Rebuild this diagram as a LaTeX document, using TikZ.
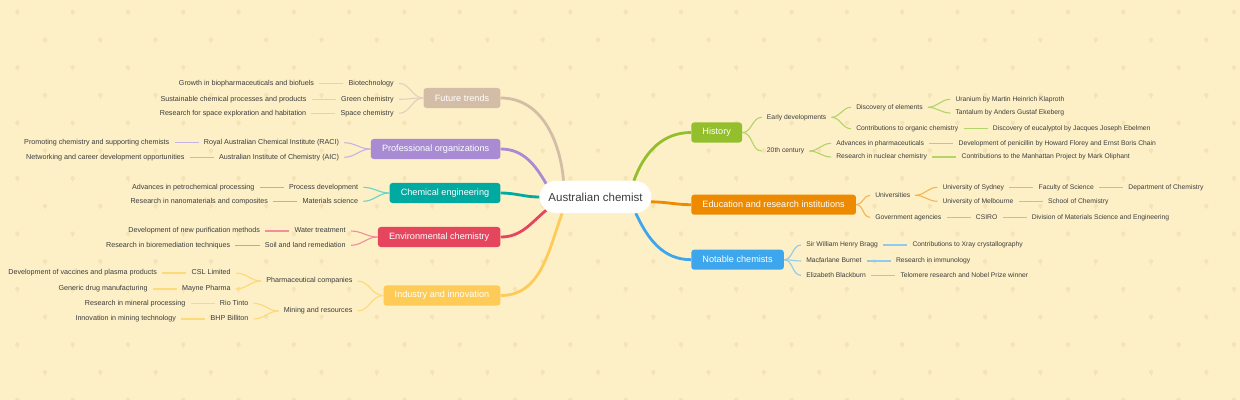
\documentclass[tikz,border=0pt]{standalone}
\usepackage{fontspec}
\setmainfont{Liberation Sans}
\usetikzlibrary{positioning,shapes.misc,backgrounds}

\definecolor{bgcol}{HTML}{FDF0C7}
\definecolor{markcol}{HTML}{F5E3B7}
\definecolor{txtcol}{HTML}{3C3C3C}
\definecolor{histc}{HTML}{92BF2B}
\definecolor{histl}{HTML}{B5D36B}
\definecolor{educ}{HTML}{EE8A00}
\definecolor{edul}{HTML}{F5B454}
\definecolor{notc}{HTML}{3EA6EC}
\definecolor{notl}{HTML}{8ECBF2}
\definecolor{futc}{HTML}{D4BDA6}
\definecolor{futl}{HTML}{E2D0BD}
\definecolor{profc}{HTML}{A88BD3}
\definecolor{profl}{HTML}{C6B3E3}
\definecolor{chemc}{HTML}{00AAA0}
\definecolor{cheml}{HTML}{6ED3C5}
\definecolor{envc}{HTML}{E5465E}
\definecolor{envl}{HTML}{F18E98}
\definecolor{indc}{HTML}{FECB57}
\definecolor{indl}{HTML}{FFD87A}

\begin{document}
\begin{tikzpicture}[x=0.025cm,y=-0.025cm,node distance=0.6cm,
    root/.style={rounded rectangle,fill=white,text=txtcol,font=\fontsize{8.2}{10}\selectfont,minimum width=3.025cm,minimum height=0.8cm},
    branch/.style={fill=#1,rounded corners=2pt,text=white,font=\fontsize{6.5}{8}\selectfont,minimum height=0.5cm,inner xsep=0.28cm},
    txt/.style={font=\fontsize{4.8}{6}\selectfont,text=txtcol,inner xsep=0.125cm,inner ysep=0.5pt,text height=3.5pt,text depth=1pt},
    txtl/.style={txt,font=\fontsize{5.1}{6}\selectfont},
    trunk/.style={draw=#1,line width=2pt},
    twig/.style={draw=#1,line width=0.8pt}]
    \useasboundingbox (0,0) rectangle (1240,400);
    \begin{scope}[on background layer]
        \fill[bgcol] (0,0) rectangle (1240,400);
        % faint pattern
        \foreach \j in {0,...,14} {
            \pgfmathsetmacro\yy{12+27.7*\j}
            \pgfmathsetmacro\xo{isodd(\j)?45:17.35}
            \foreach \k in {0,...,22} {
                \pgfmathsetmacro\xx{\xo+55.3*\k}
                \fill[markcol] (\xx,\yy) circle (2.2);
                \draw[markcol,line width=0.6pt] (\xx,\yy) -- ++(0,3.5);
            }
        }
    \end{scope}

    \node[root] (root) at (595.5,197) {Australian chemist};

    % right side
    \node[branch=histc,anchor=west] (hist) at (691,132.5) {History};
    \node[branch=educ,anchor=west] (edu) at (691,204.7) {Education and research institutions};
    \node[branch=notc,anchor=west] (notable) at (691,259.7) {Notable chemists};

    \node[txt,anchor=west] (early) at (761.7,117.3) {Early developments};
    \node[txt,anchor=west] (c20) at (761.7,151) {20th century};
    \node[txt,anchor=west] (discel) at (851,107.3) {Discovery of elements};
    \node[txt,anchor=west] (orgchem) at (851,128.7) {Contributions to organic chemistry};
    \node[txt,anchor=west] (uranium) at (950.3,99.3) {Uranium by Martin Heinrich Klaproth};
    \node[txt,anchor=west] (tantalum) at (950.3,113) {Tantalum by Anders Gustaf Ekeberg};
    \node[txt,right=of orgchem] (eucal) {Discovery of eucalyptol by Jacques Joseph Ebelmen};
    \node[txt,anchor=west] (pharma) at (831,143.3) {Advances in pharmaceuticals};
    \node[txt,anchor=west] (nuclear) at (831,157) {Research in nuclear chemistry};
    \node[txt,right=of pharma] (penicillin) {Development of penicillin by Howard Florey and Ernst Boris Chain};
    \node[txt,right=of nuclear] (manhattan) {Contributions to the Manhattan Project by Mark Oliphant};

    \node[txt,anchor=west] (univ) at (870,195.3) {Universities};
    \node[txt,anchor=west] (gov) at (870,217.3) {Government agencies};
    \node[txt,anchor=west] (sydney) at (937.3,187.3) {University of Sydney};
    \node[txt,anchor=west] (melb) at (937.3,201.3) {University of Melbourne};
    \node[txt,right=of sydney] (faculty) {Faculty of Science};
    \node[txt,right=of faculty] (dept) {Department of Chemistry};
    \node[txt,right=of melb] (school) {School of Chemistry};
    \node[txt,right=of gov] (csiro) {CSIRO};
    \node[txt,right=of csiro] (division) {Division of Materials Science and Engineering};

    \node[txt,anchor=west] (bragg) at (801,245) {Sir William Henry Bragg};
    \node[txt,anchor=west] (burnet) at (801,261) {Macfarlane Burnet};
    \node[txt,anchor=west] (blackburn) at (801,275.3) {Elizabeth Blackburn};
    \node[txt,right=of bragg] (xray) {Contributions to Xray crystallography};
    \node[txt,right=of burnet] (immuno) {Research in immunology};
    \node[txt,right=of blackburn] (telomere) {Telomere research and Nobel Prize winner};

    % left side
    \node[branch=futc,anchor=east] (future) at (500.7,98) {Future trends};
    \node[branch=profc,anchor=east] (prof) at (500.7,149) {Professional organizations};
    \node[branch=chemc,anchor=east] (cheng) at (500.7,193) {Chemical engineering};
    \node[branch=envc,anchor=east] (envir) at (500.7,237) {Environmental chemistry};
    \node[branch=indc,anchor=east] (industry) at (500.7,295.5) {Industry and innovation};

    \node[txtl,anchor=east] (biotech) at (399,83.3) {Biotechnology};
    \node[txtl,anchor=east] (green) at (399,99.3) {Green chemistry};
    \node[txtl,anchor=east] (spacechem) at (399,113.3) {Space chemistry};
    \node[txtl,left=of biotech] (growth) {Growth in biopharmaceuticals and biofuels};
    \node[txtl,left=of green] (sustain) {Sustainable chemical processes and products};
    \node[txtl,left=of spacechem] (habitation) {Research for space exploration and habitation};

    \node[txtl,anchor=east] (raci) at (344.3,142.7) {Royal Australian Chemical Institute (RACI)};
    \node[txtl,anchor=east] (aic) at (344.3,157.3) {Australian Institute of Chemistry (AIC)};
    \node[txtl,left=of raci] (promoting) {Promoting chemistry and supporting chemists};
    \node[txtl,left=of aic] (networking) {Networking and career development opportunities};

    \node[txtl,anchor=east] (procdev) at (363.3,187.3) {Process development};
    \node[txtl,anchor=east] (matsci) at (363.3,201.3) {Materials science};
    \node[txtl,left=of procdev] (petro) {Advances in petrochemical processing};
    \node[txtl,left=of matsci] (nano) {Research in nanomaterials and composites};

    \node[txtl,anchor=east] (water) at (351,231) {Water treatment};
    \node[txtl,anchor=east] (soil) at (351,245.3) {Soil and land remediation};
    \node[txtl,left=of water] (purif) {Development of new purification methods};
    \node[txtl,left=of soil] (biorem) {Research in bioremediation techniques};

    \node[txtl,anchor=east] (pharmco) at (357.7,281) {Pharmaceutical companies};
    \node[txtl,anchor=east] (mining) at (357.7,311) {Mining and resources};
    \node[txtl,anchor=east] (csl) at (236,273) {CSL Limited};
    \node[txtl,anchor=east] (mayne) at (236,289) {Mayne Pharma};
    \node[txtl,anchor=east] (rio) at (253.7,303.3) {Rio Tinto};
    \node[txtl,anchor=east] (bhp) at (253.7,319) {BHP Billiton};
    \node[txtl,left=of csl] (vaccines) {Development of vaccines and plasma products};
    \node[txtl,left=of mayne] (generic) {Generic drug manufacturing};
    \node[txtl,left=of rio] (mineral) {Research in mineral processing};
    \node[txtl,left=of bhp] (innovation) {Innovation in mining technology};

    \begin{scope}[on background layer]
        \draw[trunk=histc] (root.23) to[out=70,in=180] (hist.west);
        \draw[trunk=educ] (root.-5) to[out=0,in=180] (edu.west);
        \draw[trunk=notc] (root.-22) to[out=-65,in=180] (notable.west);
        \draw[trunk=futc] (root.153) to[out=95,in=0] (future.east);
        \draw[trunk=profc] (root.165) to[out=120,in=0] (prof.east);
        \draw[trunk=chemc] (root.180) to[out=180,in=0] (cheng.east);
        \draw[trunk=envc] (root.195) to[out=220,in=0] (envir.east);
        \draw[trunk=indc] (root.206) to[out=250,in=0] (industry.east);
    \end{scope}

    % history
    \draw[twig=histl] (hist.east) to[out=0,in=180] (early.west);
    \draw[twig=histl] (hist.east) to[out=0,in=180] (c20.west);
    \draw[twig=histl] (early.east) to[out=0,in=180] (discel.west);
    \draw[twig=histl] (early.east) to[out=0,in=180] (orgchem.west);
    \draw[twig=histl] (discel.east) to[out=0,in=180] (uranium.west);
    \draw[twig=histl] (discel.east) to[out=0,in=180] (tantalum.west);
    \draw[twig=histl] (orgchem) -- (eucal);
    \draw[twig=histl] (c20.east) to[out=0,in=180] (pharma.west);
    \draw[twig=histl] (c20.east) to[out=0,in=180] (nuclear.west);
    \draw[twig=histl] (pharma) -- (penicillin);
    \draw[twig=histl] (nuclear) -- (manhattan);

    % education
    \draw[twig=edul] (edu.east) to[out=0,in=180] (univ.west);
    \draw[twig=edul] (edu.east) to[out=0,in=180] (gov.west);
    \draw[twig=edul] (univ.east) to[out=0,in=180] (sydney.west);
    \draw[twig=edul] (univ.east) to[out=0,in=180] (melb.west);
    \draw[twig=edul] (sydney) -- (faculty);
    \draw[twig=edul] (faculty) -- (dept);
    \draw[twig=edul] (melb) -- (school);
    \draw[twig=edul] (gov) -- (csiro);
    \draw[twig=edul] (csiro) -- (division);

    % notable chemists
    \draw[twig=notl] (notable.east) to[out=0,in=180] (bragg.west);
    \draw[twig=notl] (notable.east) to[out=0,in=180] (burnet.west);
    \draw[twig=notl] (notable.east) to[out=0,in=180] (blackburn.west);
    \draw[twig=notl] (bragg) -- (xray);
    \draw[twig=notl] (burnet) -- (immuno);
    \draw[twig=notl] (blackburn) -- (telomere);

    % future trends
    \draw[twig=futl] (future.west) to[out=180,in=0] (biotech.east);
    \draw[twig=futl] (future.west) to[out=180,in=0] (green.east);
    \draw[twig=futl] (future.west) to[out=180,in=0] (spacechem.east);
    \draw[twig=futl] (biotech) -- (growth);
    \draw[twig=futl] (green) -- (sustain);
    \draw[twig=futl] (spacechem) -- (habitation);

    % professional organizations
    \draw[twig=profl] (prof.west) to[out=180,in=0] (raci.east);
    \draw[twig=profl] (prof.west) to[out=180,in=0] (aic.east);
    \draw[twig=profl] (raci) -- (promoting);
    \draw[twig=profl] (aic) -- (networking);

    % chemical engineering
    \draw[twig=cheml] (cheng.west) to[out=180,in=0] (procdev.east);
    \draw[twig=cheml] (cheng.west) to[out=180,in=0] (matsci.east);
    \draw[twig=cheml] (procdev) -- (petro);
    \draw[twig=cheml] (matsci) -- (nano);

    % environmental chemistry
    \draw[twig=envl] (envir.west) to[out=180,in=0] (water.east);
    \draw[twig=envl] (envir.west) to[out=180,in=0] (soil.east);
    \draw[twig=envl] (water) -- (purif);
    \draw[twig=envl] (soil) -- (biorem);

    % industry and innovation
    \draw[twig=indl] (industry.west) to[out=180,in=0] (pharmco.east);
    \draw[twig=indl] (industry.west) to[out=180,in=0] (mining.east);
    \draw[twig=indl] (pharmco.west) to[out=180,in=0] (csl.east);
    \draw[twig=indl] (pharmco.west) to[out=180,in=0] (mayne.east);
    \draw[twig=indl] (mining.west) to[out=180,in=0] (rio.east);
    \draw[twig=indl] (mining.west) to[out=180,in=0] (bhp.east);
    \draw[twig=indl] (csl) -- (vaccines);
    \draw[twig=indl] (mayne) -- (generic);
    \draw[twig=indl] (rio) -- (mineral);
    \draw[twig=indl] (bhp) -- (innovation);
\end{tikzpicture}
\end{document}
